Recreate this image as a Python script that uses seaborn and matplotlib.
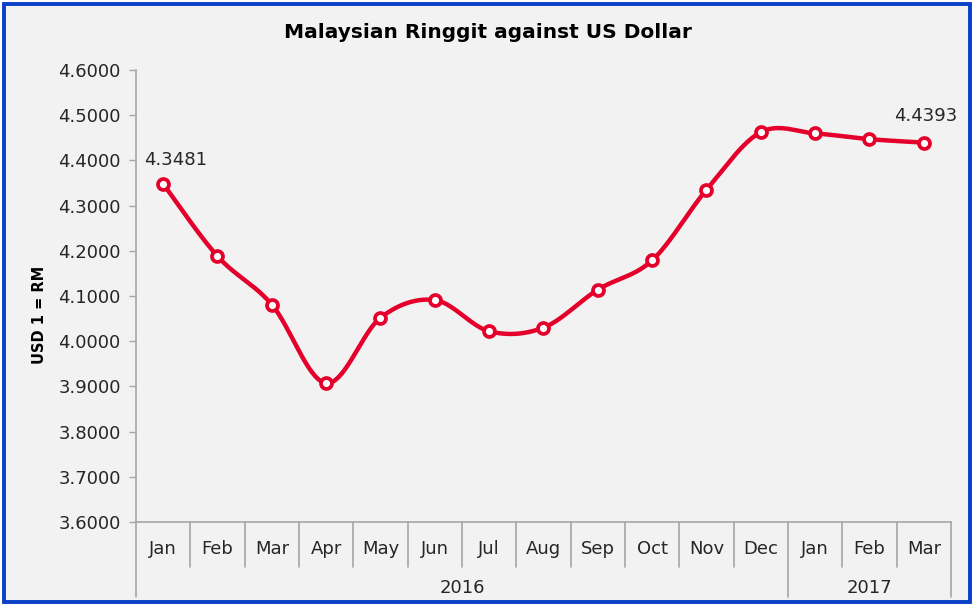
import numpy as np
import matplotlib
matplotlib.use("Agg")
import matplotlib.pyplot as plt
import matplotlib.transforms as mtransforms
from matplotlib.patches import Rectangle
import seaborn as sns

# ---- data ----
months = ["Jan", "Feb", "Mar", "Apr", "May", "Jun", "Jul", "Aug", "Sep", "Oct",
          "Nov", "Dec", "Jan", "Feb", "Mar"]
years = ["2016"] * 12 + ["2017"] * 3
rate = [4.3481, 4.188, 4.081, 3.907, 4.052, 4.091, 4.022, 4.030, 4.114, 4.179,
        4.335, 4.4625, 4.4596, 4.447, 4.4393]
yticks = [3.6, 3.7, 3.8, 3.9, 4.0, 4.1, 4.2, 4.3, 4.4, 4.5, 4.6]
title = "Malaysian Ringgit against US Dollar"
ylabel = "USD 1 = RM"

RED = "#e4002b"
GRAY = "#a6a6a6"
TXT = "#262626"

sns.set_theme(style="white")
plt.rcParams["font.family"] = ["DejaVu Sans"]

fig = plt.figure(figsize=(9.78, 6.06), dpi=100, facecolor="white")
fig.patches.append(Rectangle((4 / 978, 4 / 606), 966 / 978, 598 / 606,
                             transform=fig.transFigure, facecolor="#f2f2f2",
                             edgecolor="#0a3fc8", lw=2.8, zorder=-10))
ax = fig.add_axes([136 / 978, 1 - 522 / 606, 815 / 978, 452 / 606])
ax.set_facecolor("none")

x = np.arange(len(rate), dtype=float)
y = np.asarray(rate, dtype=float)

# smoothed line (Catmull-Rom style Bezier, like a spreadsheet "smoothed line")
P = np.column_stack([x, y])
Pext = np.vstack([P[0], P, P[-1]])
curve = []
t = np.linspace(0, 1, 40)[:, None]
for i in range(len(P) - 1):
    p0, p1, p2, p3 = Pext[i], Pext[i + 1], Pext[i + 2], Pext[i + 3]
    c1 = p1 + (p2 - p0) / 6.0
    c2 = p2 - (p3 - p1) / 6.0
    seg = ((1 - t) ** 3) * p1 + 3 * ((1 - t) ** 2) * t * c1 + 3 * (1 - t) * t ** 2 * c2 + t ** 3 * p2
    curve.append(seg if i == 0 else seg[1:])
curve = np.vstack(curve)
ax.plot(curve[:, 0], curve[:, 1], color=RED, lw=3.2, solid_capstyle="round", zorder=3)

sns.scatterplot(x=x, y=y, ax=ax, s=62, color="white", edgecolor=RED,
                linewidth=2.7, zorder=5, legend=False)

ax.set_xlim(-0.5, len(rate) - 0.5)
ax.set_ylim(yticks[0], yticks[-1])
ax.set_yticks(yticks)
ax.set_yticklabels([f"{v:.4f}" for v in yticks], fontsize=13, color=TXT)
ax.set_xticks(x)
ax.set_xticklabels(months, fontsize=13, color=TXT)
ax.tick_params(axis="x", length=0, pad=13)
ax.tick_params(axis="y", length=5, width=1, color=GRAY, direction="out", pad=6, left=True)
for s in ["top", "right"]:
    ax.spines[s].set_visible(False)
for s in ["left", "bottom"]:
    ax.spines[s].set_color(GRAY)
    ax.spines[s].set_linewidth(1.2)
ax.grid(False)

# multi-level category axis
blend = mtransforms.blended_transform_factory(ax.transData, ax.transAxes)
boundaries = np.arange(-0.5, len(rate), 1.0)
year_breaks = [-0.5] + [i - 0.5 for i in range(1, len(years)) if years[i] != years[i - 1]] + [len(years) - 0.5]
for b in boundaries:
    long = any(abs(b - yb) < 1e-9 for yb in year_breaks)
    ax.plot([b, b], [0, -0.166 if long else -0.1], transform=blend, clip_on=False,
            color=GRAY, lw=1.2)
for yr in dict.fromkeys(years):
    idx = [i for i, v in enumerate(years) if v == yr]
    ax.text(np.mean(idx), -0.146, yr, transform=blend, ha="center", va="center",
            fontsize=13, color=TXT)

# data labels
ax.annotate(f"{rate[0]:.4f}", (x[0], y[0]), xytext=(9, 11), textcoords="offset points",
            ha="center", va="bottom", fontsize=13, color=TXT)
ax.annotate(f"{rate[-1]:.4f}", (x[-1], y[-1]), xytext=(1, 12.5), textcoords="offset points",
            ha="center", va="bottom", fontsize=13, color=TXT)

ax.text(-0.118, 0.458, ylabel, transform=ax.transAxes, rotation=90, ha="center",
        va="center", fontsize=10.5, fontweight="bold", color="black")
fig.text(488 / 978, 1 - 33 / 606, title, ha="center", va="center", fontsize=14.5,
         fontweight="bold", color="black")

fig.savefig("out.png", dpi=100, facecolor="white")
